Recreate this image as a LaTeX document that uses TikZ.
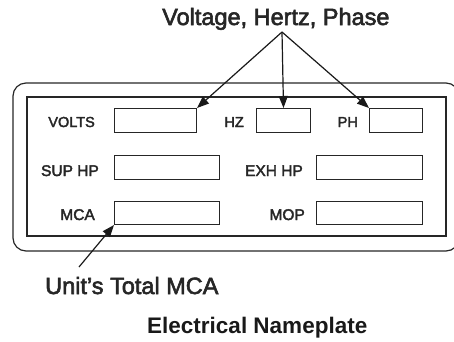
\documentclass[tikz,border=0pt]{standalone}
\usepackage{fontspec}
\setmainfont{Liberation Sans}
\newfontfamily\medfont[FakeBold=2.5]{Liberation Sans}
\usetikzlibrary{arrows.meta}
\begin{document}
\begin{tikzpicture}[x=1pt,y=-1pt,
  line cap=butt,
  fieldbox/.style={draw=black!85,line width=1pt,inner sep=0pt,anchor=north west},
  lab/.style={font=\medfont\fontsize{15.5}{16}\selectfont,anchor=base east,inner sep=0pt,text=black!85},
  biglab/.style={font=\medfont\fontsize{23.5}{24}\selectfont,anchor=base west,inner sep=0pt,text=black!85},
  pointer/.style={draw=black!90,line width=1.2pt,-{Triangle[length=12pt,width=9pt]}}]
\useasboundingbox (0,0) rectangle (454,341);
\clip (0,0) rectangle (454,341);
% plate outlines
\draw[black!85,line width=1.2pt,rounded corners=13pt] (13,83) rectangle (459,251);
\draw[black!85,line width=1.2pt] (27,97) rectangle (446,236);
% fields
\node[fieldbox,minimum width=82pt,minimum height=24pt] (volts) at (114,108) {};
\node[fieldbox,minimum width=54pt,minimum height=24pt] (hz) at (256,108) {};
\node[fieldbox,minimum width=53pt,minimum height=24pt] (ph) at (369,108) {};
\node[fieldbox,minimum width=105pt,minimum height=24pt] (sup) at (114,155) {};
\node[fieldbox,minimum width=106pt,minimum height=24pt] (exh) at (316,155) {};
\node[fieldbox,minimum width=105pt,minimum height=23pt] (mca) at (114,201) {};
\node[fieldbox,minimum width=106pt,minimum height=23pt] (mop) at (316,201) {};
% labels
\node[lab,font=\medfont\fontsize{14.5}{15}\selectfont] (lvolts) at (95,127) {VOLTS};
\node[lab,font=\medfont\fontsize{14.5}{15}\selectfont] (lhz) at (244,127) {HZ};
\node[lab,font=\medfont\fontsize{14.5}{15}\selectfont] (lph) at (358,127) {PH};
\node[lab] (lsup) at (99,176) {SUP HP};
\node[lab] (lexh) at (303,176) {EXH HP};
\node[lab] (lmca) at (95,220) {MCA};
\node[lab] (lmop) at (305,220) {MOP};
% callouts
\node[biglab] (title) at (162,25) {Voltage, Hertz, Phase};
\coordinate (apex) at (282,32);
\draw[pointer] (apex) -- (volts.north east);
\draw[pointer] (apex) -- (hz.north);
\draw[pointer] (apex) -- (ph.north west);
\node[biglab] (total) at (45,294) {Unit’s Total MCA};
\coordinate (mcafoot) at (79,267);
\draw[pointer] (mcafoot) -- (mca.south west);
\node[anchor=base west,inner sep=0pt,font=\bfseries\fontsize{22.5}{23}\selectfont,text=black!90] (caption) at (147,333) {Electrical Nameplate};
\end{tikzpicture}
\end{document}
